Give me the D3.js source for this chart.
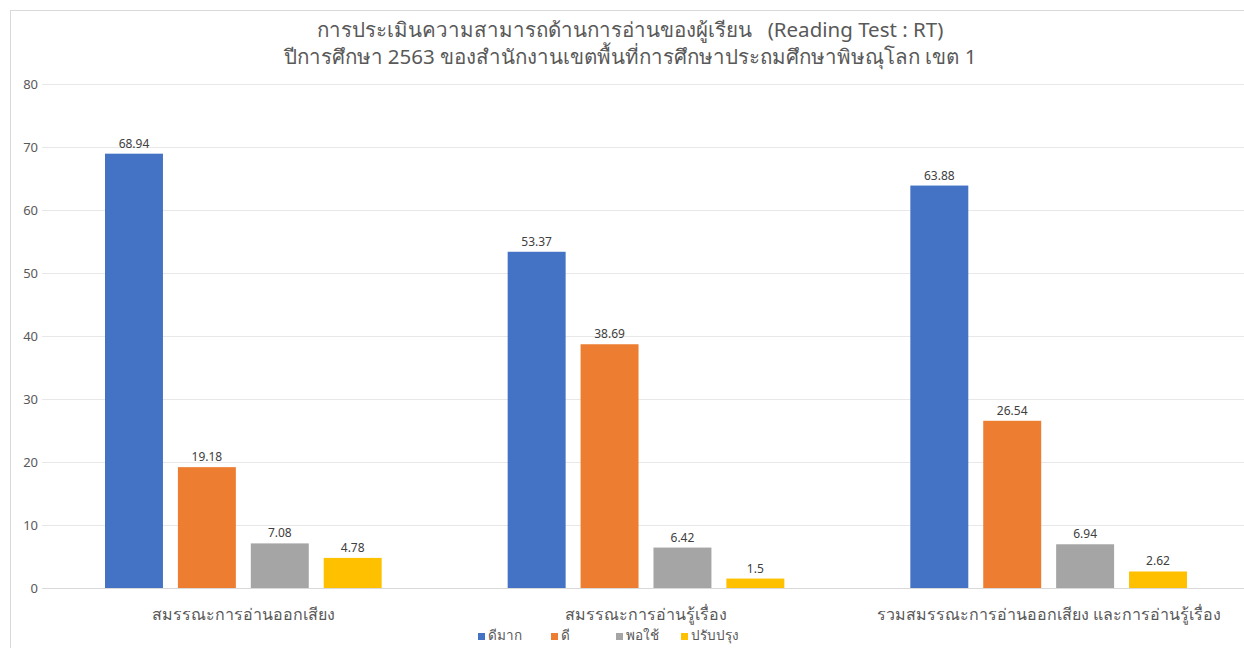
<!DOCTYPE html>
<html>
<head>
<meta charset="utf-8">
<script src="https://cdn.jsdelivr.net/npm/d3@7"></script>
<style>
  body { margin: 0; background: #fff; }
  svg { font-family: "Noto Sans", "DejaVu Sans", sans-serif; }
</style>
</head>
<body>
<svg id="chart" width="1244" height="648"></svg>
<script>
// chart data
const categories = ['สมรรณะการอ่านออกเสียง', 'สมรรณะการอ่านรู้เรื่อง', 'รวมสมรรณะการอ่านออกเสียง และการอ่านรู้เรื่อง'];
const seriesNames = ['ดีมาก', 'ดี', 'พอใช้', 'ปรับปรุง'];
const valuesDeeMak = [68.94, 53.37, 63.88];
const valuesDee = [19.18, 38.69, 26.54];
const valuesPorChai = [7.08, 6.42, 6.94];
const valuesPrapPrung = [4.78, 1.5, 2.62];
const yTicks = [0, 10, 20, 30, 40, 50, 60, 70, 80];
const titleLines = [
  'การประเมินความสามารถด้านการอ่านของผู้เรียน   (Reading Test : RT)',
  'ปีการศึกษา 2563 ของสำนักงานเขตพื้นที่การศึกษาประถมศึกษาพิษณุโลก เขต 1'
];

const colors = ['#4472C4', '#ED7D31', '#A5A5A5', '#FFC000'];
const series = [valuesDeeMak, valuesDee, valuesPorChai, valuesPrapPrung];

const svg = d3.select('#chart');

// outer chart border
svg.append('rect')
  .attr('x', 10.5).attr('y', 10.5)
  .attr('width', 1260).attr('height', 660)
  .attr('fill', 'none')
  .attr('stroke', '#D9D9D9');

const x0 = d3.scaleBand()
  .domain(categories)
  .range([42, 1250])
  .paddingInner(0)
  .paddingOuter(0);

const x1 = d3.scaleBand()
  .domain(d3.range(seriesNames.length))
  .range([63, x0.bandwidth() - 63])
  .paddingInner(0.205);

const y = d3.scaleLinear()
  .domain([0, 80])
  .range([588, 84]);

// gridlines
svg.append('g')
  .selectAll('line')
  .data(yTicks)
  .join('line')
  .attr('x1', 42).attr('x2', 1250)
  .attr('y1', d => Math.round(y(d)) + 0.5)
  .attr('y2', d => Math.round(y(d)) + 0.5)
  .attr('stroke', d => d === 0 ? '#D9D9D9' : '#E8E8E8');

// y axis labels
svg.append('g')
  .selectAll('text')
  .data(yTicks)
  .join('text')
  .attr('x', 38)
  .attr('y', d => y(d))
  .attr('dy', '0.35em')
  .attr('text-anchor', 'end')
  .attr('fill', '#595959')
  .style('font-size', '13px')
  .text(d => d);

// bars
const groups = svg.append('g')
  .selectAll('g')
  .data(categories)
  .join('g')
  .attr('transform', d => 'translate(' + x0(d) + ',0)');

groups.selectAll('rect')
  .data((d, i) => series.map((s, j) => ({ j: j, v: s[i] })))
  .join('rect')
  .attr('x', d => x1(d.j))
  .attr('width', x1.bandwidth())
  .attr('y', d => y(d.v))
  .attr('height', d => y(0) - y(d.v))
  .attr('fill', d => colors[d.j]);

groups.selectAll('text')
  .data((d, i) => series.map((s, j) => ({ j: j, v: s[i] })))
  .join('text')
  .attr('x', d => x1(d.j) + x1.bandwidth() / 2)
  .attr('y', d => y(d.v) - 6)
  .attr('text-anchor', 'middle')
  .attr('fill', '#404040')
  .style('font-size', '12px')
  .text(d => d.v);

// category labels
svg.append('g')
  .selectAll('text')
  .data(categories)
  .join('text')
  .attr('x', d => x0(d) + x0.bandwidth() / 2)
  .attr('y', 620)
  .attr('text-anchor', 'middle')
  .attr('fill', '#595959')
  .style('font-size', '16px')
  .text(d => d);

// title
svg.append('g')
  .selectAll('text')
  .data(titleLines)
  .join('text')
  .attr('x', 630)
  .attr('y', (d, i) => 37 + i * 27)
  .attr('text-anchor', 'middle')
  .attr('fill', '#595959')
  .style('font-size', '20.5px')
  .style('white-space', 'pre')
  .text(d => d);

// legend
const legendX = [478, 551, 616, 681];
const legend = svg.append('g')
  .selectAll('g')
  .data(seriesNames)
  .join('g')
  .attr('transform', (d, i) => 'translate(' + legendX[i] + ',640)');

legend.append('rect')
  .attr('x', 0).attr('y', -7)
  .attr('width', 7).attr('height', 7)
  .attr('fill', (d, i) => colors[i]);

legend.append('text')
  .attr('x', 10)
  .attr('y', 0)
  .attr('fill', '#595959')
  .style('font-size', '13.5px')
  .text(d => d);
</script>
</body>
</html>
